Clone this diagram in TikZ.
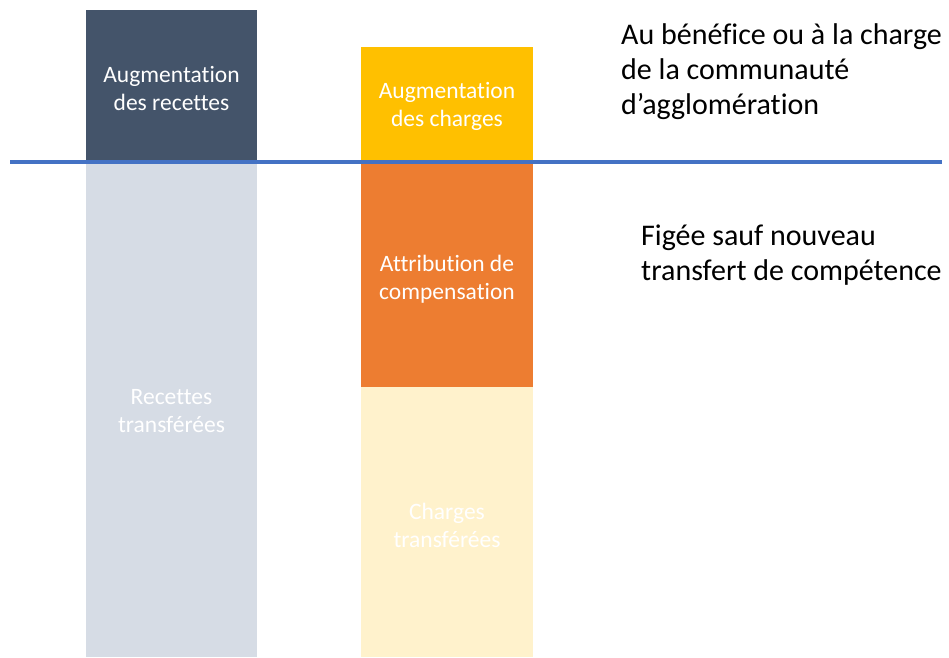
\documentclass[tikz,border=0pt]{standalone}
\usepackage{fontspec}
\setmainfont[Ligatures=NoCommon]{Carlito}
\definecolor{darkblue}{HTML}{44546A}
\definecolor{lightblue}{HTML}{D6DCE5}
\definecolor{gold}{HTML}{FFC000}
\definecolor{orangec}{HTML}{ED7D31}
\definecolor{lightgold}{HTML}{FFF2CC}
\definecolor{lineblue}{HTML}{4472C4}
\begin{document}
\begin{tikzpicture}[x=1pt,y=-1pt,
  bar/.style={rectangle, inner sep=0pt},
  bartext/.style={inner sep=0pt, align=center, text=white,
    font=\fontsize{23.5}{28}\selectfont},
  note/.style={inner sep=0pt, anchor=west, align=left, text=black,
    font=\fontsize{30}{35}\selectfont}]
\useasboundingbox (0,0) rectangle (949,657);
\node[bar, fill=darkblue, minimum width=171pt, minimum height=150pt] (recA) at (171.5,85) {};
\node[bar, fill=lightblue, minimum width=171pt, minimum height=497pt] (recT) at (171.5,408.5) {};
\node[bar, fill=gold, minimum width=172pt, minimum height=113pt] (chA) at (447,103.5) {};
\node[bar, fill=orangec, minimum width=172pt, minimum height=226pt] (attr) at (447,274) {};
\node[bar, fill=lightgold, minimum width=172pt, minimum height=270pt] (chT) at (447,522) {};
\node[bartext] (tRecA) at ([yshift=-3pt]recA.center) {Augmentation\\des recettes};
\node[bartext] (tRecT) at ([yshift=-3pt]recT.center) {Recettes\\transférées};
\node[bartext] (tChA) at ([yshift=-3pt]chA.center) {Augmentation\\des charges};
\node[bartext] (tAttr) at ([yshift=-5pt]attr.center) {Attribution de\\compensation};
\node[bartext] (tChT) at ([yshift=-3pt]chT.center) {Charges\\transférées};
\coordinate (l1) at (10,162);
\coordinate (l2) at (942,162);
\draw[lineblue, line width=4pt] (l1) -- (l2);
\node[note] (n1) at (621,72) {Au bénéfice ou à la charge\\de la communauté\\d’agglomération};
\node[note] (n2) at (641,255) {Figée sauf nouveau\\transfert de compétence};
\end{tikzpicture}
\end{document}
